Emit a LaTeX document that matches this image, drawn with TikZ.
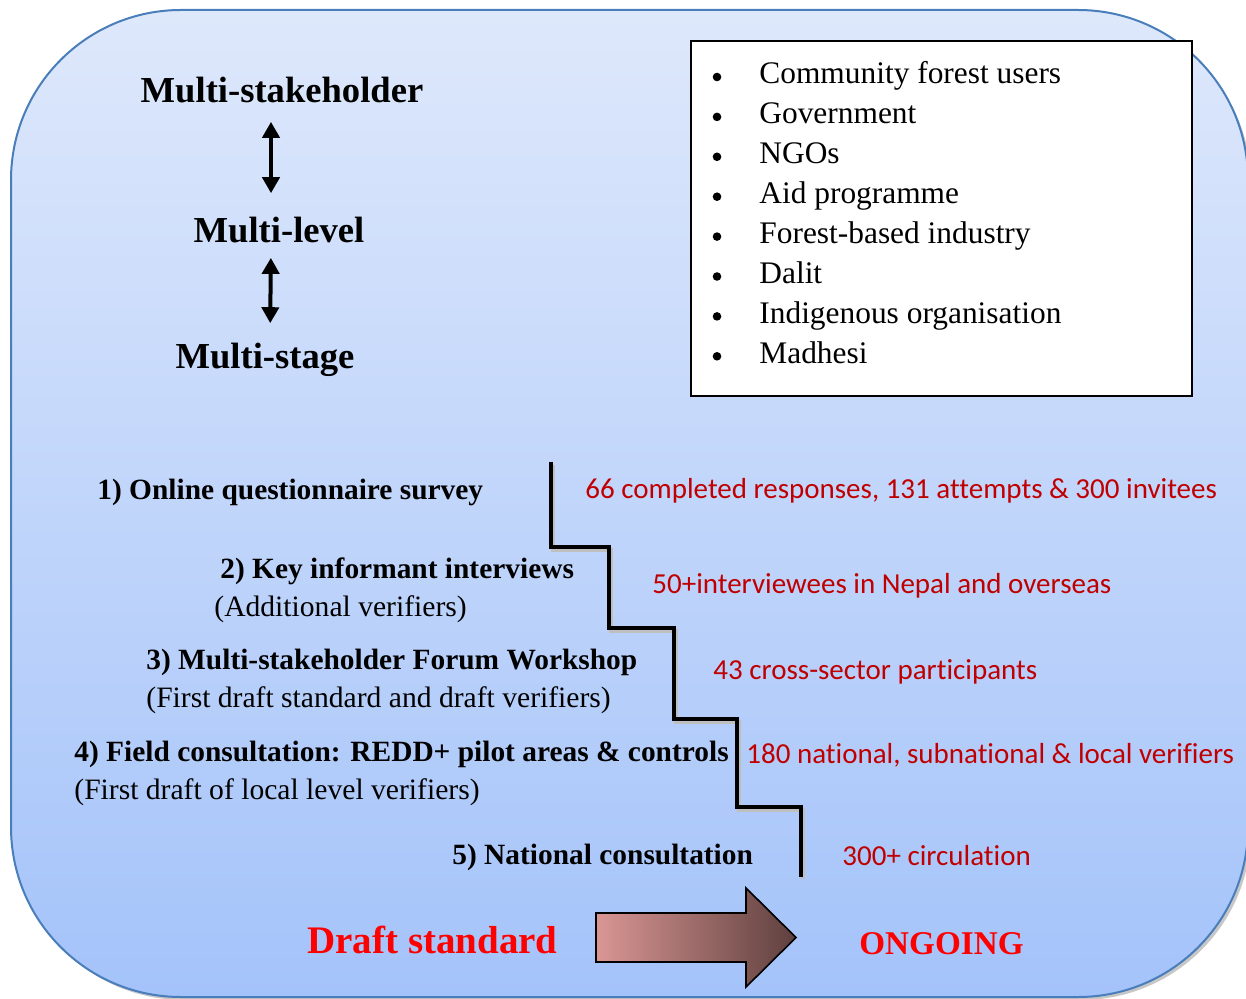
\documentclass[tikz,border=0pt]{standalone}
\usepackage{fontspec}
\setmainfont{Liberation Serif}
\newfontfamily\notefont[Ligatures=NoCommon]{Carlito}
\usetikzlibrary{arrows.meta,positioning}

\definecolor{panetop}{RGB}{222,232,251}
\definecolor{panebot}{RGB}{164,195,250}
\definecolor{paneline}{RGB}{74,126,187}
\definecolor{notered}{RGB}{192,0,0}
\definecolor{arrowlight}{RGB}{218,150,148}
\definecolor{arrowdark}{RGB}{94,64,62}

\begin{document}
\begin{tikzpicture}[
  x=0.5pt, y=-0.5pt,
  head/.style={font=\fontsize{18.3}{22}\selectfont\bfseries, inner sep=0pt, anchor=base},
  member/.style={font=\fontsize{15.7}{19}\selectfont, inner sep=0pt, anchor=base west},
  dot/.style={circle, fill=black, inner sep=0pt, minimum size=4.3pt},
  stage/.style={font=\fontsize{14.7}{18}\selectfont\bfseries, inner sep=0pt, anchor=base west},
  detail/.style={font=\fontsize{14.8}{18}\selectfont, inner sep=0pt, anchor=base west},
  note/.style={font=\notefont\fontsize{14.5}{17}\selectfont, text=notered, inner sep=0pt, anchor=base west},
  result/.style={font=\fontsize{19.5}{23}\selectfont\bfseries, text=red, inner sep=0pt, anchor=base west},
  updown/.style={{Triangle[length=8pt,width=8.5pt]}-{Triangle[length=8pt,width=8.5pt]}, line width=2pt},
  stair/.style={line width=2pt, line join=miter},
]
\useasboundingbox (0,0) rectangle (1246,999);

% panel
\fill[black!22, rounded corners=85pt] (14,14) rectangle (1251,1000);
\draw[paneline, line width=1pt, top color=panetop, bottom color=panebot,
  rounded corners=85pt] (11,10) rectangle (1248,997);

% three dimensions
\node[head] (stake) at (282,103) {Multi-stakeholder};
\node[head] (level) at (279,243) {Multi-level};
\node[head] (stage) at (265,369) {Multi-stage};
\draw[updown, shorten <=9pt, shorten >=12pt] ([xshift=-5.5pt]stake.south) -- ([xshift=-4pt]level.north);
\draw[updown, shorten <=7pt, shorten >=10pt] ([xshift=-4pt]level.south) -- ([xshift=2.5pt]stage.north);

% stakeholder groups
\node[draw, line width=0.6pt, fill=white, minimum width=250.5pt, minimum height=177.5pt,
  inner sep=0pt] (groups) at (941.5,218.5) {};
\foreach \name [count=\i from 0] in {Community forest users, Government, NGOs,
    Aid programme, Forest-based industry, Dalit, Indigenous organisation, Madhesi} {
  \node[dot] (dot\i) at (717,77+39.9*\i) {};
  \node[member] (group\i) at (759,84+39.9*\i) {\name};
}

% staircase
\draw[stair, black!25] (553,465) -- (553,550) -- (611,550) -- (611,631) -- (676,631)
  -- (676,722) -- (739,722) -- (739,810) -- (803,810) -- (803,879);
\draw[stair] (551,462) -- (551,547) -- (609,547) -- (609,628) -- (674,628)
  -- (674,719) -- (737,719) -- (737,807) -- (801,807) -- (801,877);

% stages
\node[stage] (s1) at (97,499) {1) Online questionnaire survey};
\node[stage] (s2) at (220,578) {2) Key informant interviews};
\node[detail] (d2) at (214,616) {(Additional verifiers)};
\node[stage] (s3) at (146,669) {3) Multi-stakeholder Forum Workshop};
\node[detail] (d3) at (146,707) {(First draft standard and draft verifiers)};
\node[stage] (s4) at (74,761) {4) Field consultation: REDD+ pilot areas \& controls};
\node[detail] (d4) at (74,799) {(First draft of local level verifiers)};
\node[stage] (s5) at (452,864) {5) National consultation};

% figures per stage
\node[note] (n1) at (585,498) {66 completed responses, 131 attempts \& 300 invitees};
\node[note] (n2) at (652,593) {50+interviewees in Nepal and overseas};
\node[note] (n3) at (713,679) {43 cross-sector participants};
\node[note] (n4) at (746,763) {180 national, subnational \& local verifiers};
\node[note] (n5) at (842,865) {300+ circulation};

% outcome
\node[result] (draft) at (307,953) {Draft standard};
\draw[line width=0.8pt, left color=arrowlight, right color=arrowdark]
  (596,913) -- (746,913) -- (746,888) -- (796,937.5) -- (746,987) -- (746,962)
  -- (596,962) -- cycle;
\node[result, font=\fontsize{16.6}{20}\selectfont\bfseries] (ongoing) at (859,954) {ONGOING};

\end{tikzpicture}
\end{document}
